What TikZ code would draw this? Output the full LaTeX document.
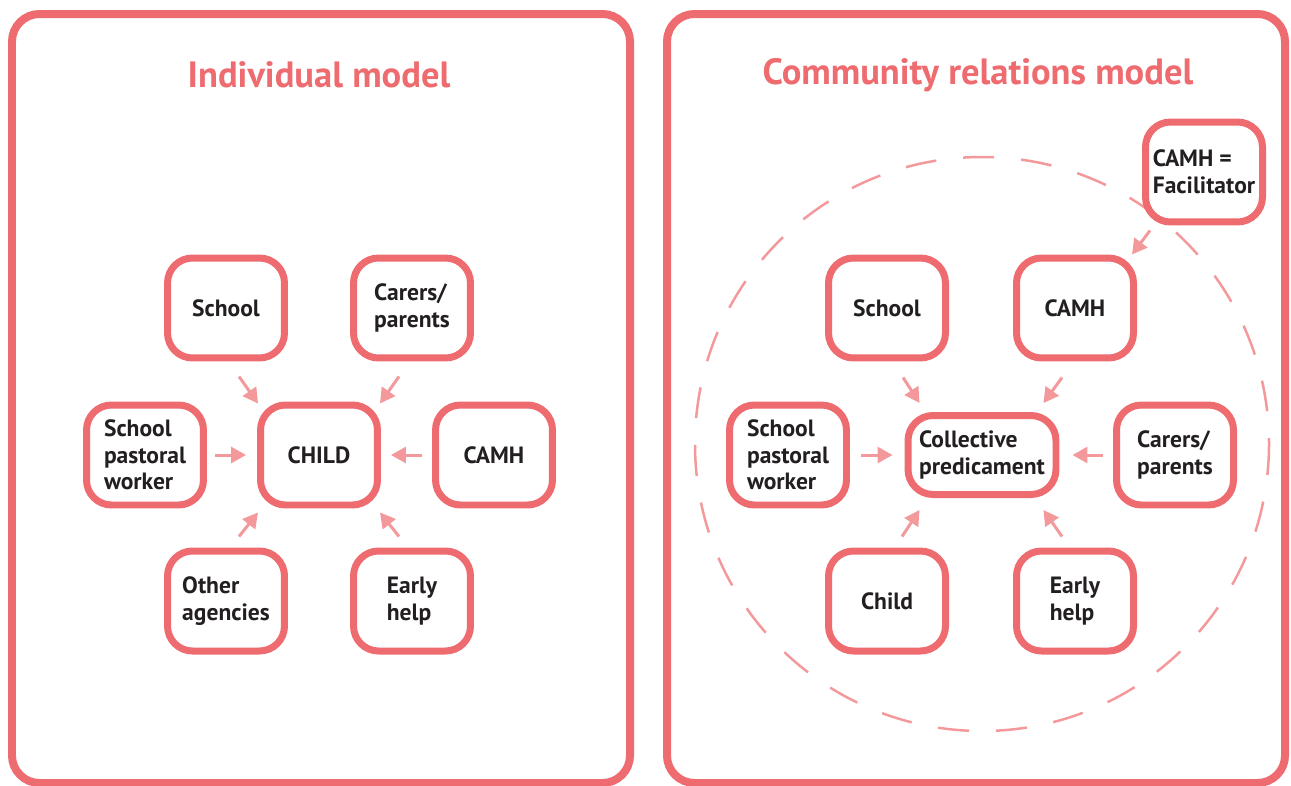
\documentclass[tikz,border=0pt]{standalone}
\usepackage{fontspec}
\setmainfont{PT Sans}
\usetikzlibrary{arrows.meta}
\usetikzlibrary{calc}

\definecolor{boxred}{HTML}{EE6B6F}
\definecolor{arrowpink}{HTML}{F4999B}
\definecolor{inktext}{HTML}{231F20}

\tikzset{
  panel/.style={draw=boxred, line width=0.16cm, rounded corners=0.55cm},
  agent/.style={draw=boxred, line width=0.14cm, rounded corners=0.5cm, fill=white,
    minimum width=2.34cm, minimum height=2cm, align=left, text=inktext,
    font=\fontsize{13.4}{15.2}\selectfont\bfseries, inner sep=0pt},
  ptitle/.style={text=boxred, font=\fontsize{20.8}{24}\selectfont\bfseries},
  feed/.style={draw=arrowpink, line width=0.06cm, -{Triangle[length=0.3cm,width=0.32cm]}},
  ring/.style={draw=arrowpink, line width=0.05cm, dash pattern=on 0.62cm off 0.54cm},
}

\begin{document}
\begin{tikzpicture}[x=0.02cm, y=-0.02cm]
    \useasboundingbox (0,0) rectangle (1291,785);

    % draw panels
    \draw[panel] (12,14) rectangle (630,783);
    \draw[panel] (667,14) rectangle (1285,783);
    \node[ptitle] (ltitle) at (319,75) {Individual model};
    \node[ptitle] (rtitle) at (978,75) {Community relations model};

    % individual model
    \node[agent] (child) at (319,455) {CHILD};
    \node[agent] (school) at (226,308) {School};
    \node[agent] (carers) at (412,308) {Carers/\\parents};
    \node[agent] (spw) at (145,455) {School\\pastoral\\worker};
    \node[agent] (camh) at (494,455) {CAMH};
    \node[agent] (other) at (226,601) {Other\\agencies};
    \node[agent] (early) at (412,601) {Early\\help};

    \draw[feed] ($(school.south)+(13,15)$) -- ($(child.north west)+(1,2)$);
    \draw[feed] ($(carers.south)+(-13,15)$) -- ($(child.north east)+(-1,2)$);
    \draw[feed] ($(spw.east)+(8,0)$) -- ($(child.west)+(-11,0)$);
    \draw[feed] ($(camh.west)+(-10,0)$) -- ($(child.east)+(10,0)$);
    \draw[feed] ($(other.north)+(13,-11)$) -- ($(child.south west)+(1,4)$);
    \draw[feed] ($(early.north)+(-13,-11)$) -- ($(child.south east)+(-1,4)$);

    % community relations model
    \draw[ring] (982,444) circle[radius=287];

    \node[agent, minimum width=2.96cm, minimum height=1.58cm] (cp) at (982,455) {Collective\\predicament};
    \node[agent] (rschool) at (887,308) {School};
    \node[agent] (rcamh) at (1075,308) {CAMH};
    \node[agent] (rspw) at (788,455) {School\\pastoral\\worker};
    \node[agent] (rcarers) at (1175,455) {Carers/\\parents};
    \node[agent] (rchild) at (887,601) {Child};
    \node[agent] (rearly) at (1075,601) {Early\\help};
    \node[agent] (facil) at (1204,172) {CAMH =\\Facilitator};

    \draw[feed] ($(rschool.south)+(16,16)$) -- ($(cp.north west)+(15,-9)$);
    \draw[feed] ($(rcamh.south)+(-13,16)$) -- ($(cp.north east)+(-16,-9)$);
    \draw[feed] ($(rspw.east)+(11,0)$) -- ($(cp.west)+(-12,0)$);
    \draw[feed] ($(rcarers.west)+(-10,0)$) -- ($(cp.east)+(13,0)$);
    \draw[feed] ($(rchild.north)+(15,-11)$) -- ($(cp.south west)+(15,12)$);
    \draw[feed] ($(rearly.north)+(-13,-11)$) -- ($(cp.south east)+(-16,12)$);
    \draw[feed] ($(facil.south west)+(8,5)$) -- ($(rcamh.north east)+(-5,0)$);
\end{tikzpicture}
\end{document}
